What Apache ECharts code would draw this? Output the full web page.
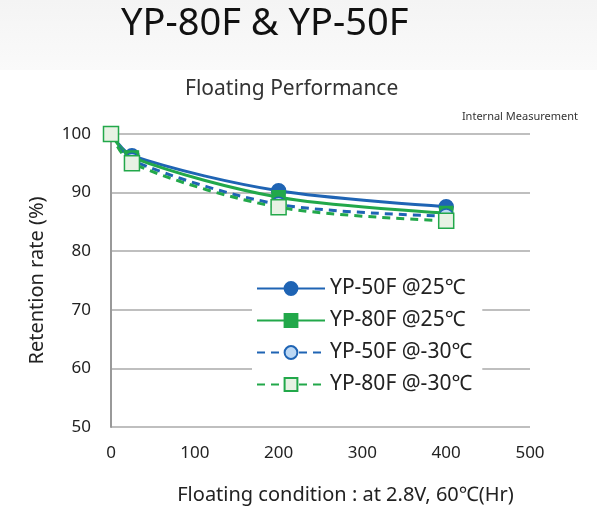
<!DOCTYPE html>
<html><head><meta charset="utf-8">
<script src="https://cdn.jsdelivr.net/npm/echarts@6/dist/echarts.min.js"></script>
<style>
body{margin:0;background:#fff;}
#top{position:absolute;left:0;top:0;width:597px;height:70px;background:linear-gradient(#f4f4f4,#fafafa);}
#chart{position:absolute;left:0;top:0;width:597px;height:518px;}
</style></head><body>
<div id="top"></div>
<div id="chart"></div>
<script>
const hours = [0, 25, 200, 400];
const yp50f25 = [100, 96.3, 90.3, 87.6];
const yp80f25 = [100, 96.0, 89.2, 86.5];
const yp50fm30 = [100, 95.5, 88.0, 86.0];
const yp80fm30 = [100, 95.0, 87.5, 85.2];
const names = ['YP-50F @25℃', 'YP-80F @25℃', 'YP-50F @-30℃', 'YP-80F @-30℃'];

const chart = echarts.init(document.getElementById('chart'));
const pts = arr => hours.map((h, i) => [h, arr[i]]);
const font = 'Noto Sans';

function mk(name, data, color, symbol, fill, dashed, size) {
  return {
    name, type: 'line', data: pts(data), smooth: 0.3,
    symbol, symbolSize: size,
    lineStyle: { color, width: 3, type: dashed ? [8, 6] : 'solid' },
    itemStyle: { color: fill, borderColor: color, borderWidth: 1.5 },
  };
}

chart.setOption({
  animation: false,
  textStyle: { fontFamily: font },
  title: [
    { text: 'YP-80F & YP-50F', left: 116, top: 0, textStyle: { fontSize: 38, fontWeight: 'normal', color: '#111', fontFamily: font } },
    { text: 'Floating Performance', left: 180, top: 74, textStyle: { fontSize: 21, fontWeight: 'normal', color: '#333', fontFamily: font } },
    { text: 'Internal Measurement', right: 14, top: 106, textStyle: { fontSize: 11, fontWeight: 'normal', color: '#333', fontFamily: font } },
  ],
  grid: { left: 111, right: 67, top: 134, bottom: 91 },
  xAxis: {
    type: 'value', min: 0, max: 500, interval: 100,
    name: 'Floating condition : at 2.8V, 60℃(Hr)', nameLocation: 'middle', nameGap: 58,
    nameTextStyle: { fontSize: 20, color: '#222', padding: [0, 0, 0, 50] },
    axisLine: { show: false }, axisTick: { show: false },
    axisLabel: { fontSize: 17, color: '#222', margin: 18 },
    splitLine: { show: false },
  },
  yAxis: {
    type: 'value', min: 50, max: 100, interval: 10,
    name: 'Retention rate (%)', nameLocation: 'middle', nameGap: 64,
    nameTextStyle: { fontSize: 20, color: '#222' },
    axisLine: { show: true, lineStyle: { color: '#999', width: 2 } }, axisTick: { show: false },
    axisLabel: { fontSize: 17, color: '#222', margin: 20 },
    splitLine: { show: true, lineStyle: { color: '#aaa', width: 1.5 } },
  },
  legend: {
    orient: 'vertical', left: 252, top: 276, itemGap: 11, itemWidth: 68, itemHeight: 16,
    backgroundColor: '#fff', padding: [2, 10, 2, 4],
    textStyle: { fontSize: 21, color: '#222' },
    data: names,
  },
  series: [
    mk(names[0], yp50f25, '#1f64b4', 'circle', '#1f64b4', false, 14),
    mk(names[1], yp80f25, '#22a84a', 'rect', '#22a84a', false, 13),
    mk(names[2], yp50fm30, '#1f64b4', 'circle', '#bcd8f4', true, 14),
    mk(names[3], yp80fm30, '#22a84a', 'rect', '#e8f2e4', true, 15),
  ],
});
</script>
</body></html>
